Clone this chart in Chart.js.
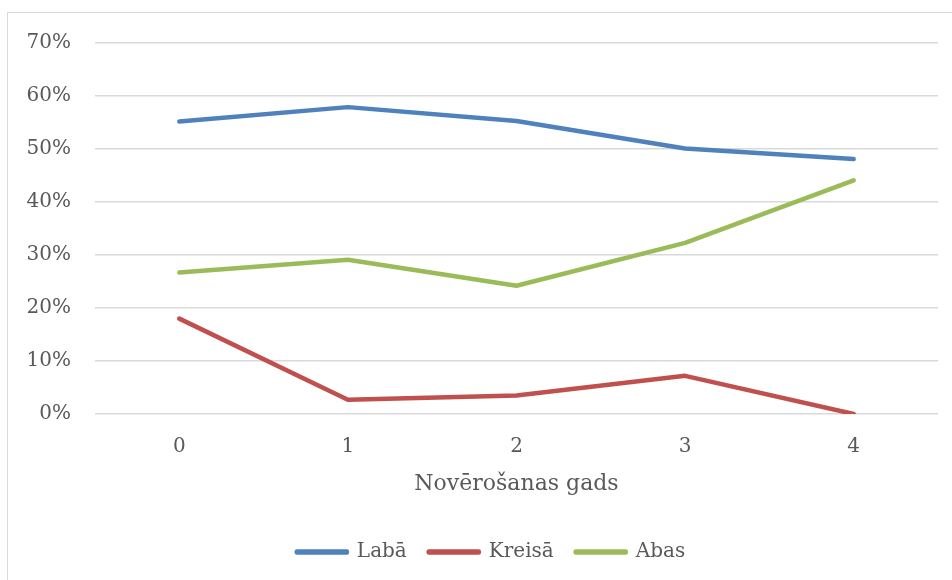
<!DOCTYPE html>
<html>
<head>
<meta charset="utf-8">
<script src="https://cdn.jsdelivr.net/npm/chart.js@4"></script>
<style>
    body { margin: 0; background: #fff; }
    #wrap { position: absolute; left: 0; top: 0; width: 952px; height: 580px; }
    #frame { position: absolute; left: 7px; top: 12px; width: 960px; height: 600px;
        border-left: 1px solid #d9d9d9; border-top: 1px solid #d9d9d9; pointer-events: none; }
</style>
</head>
<body>
<div id="wrap"><canvas id="grafico"></canvas></div>
<div id="frame"></div>
<script>
// dados
const anos = ['0', '1', '2', '3', '4'];
const laba = [55.2, 57.9, 55.3, 50.1, 48.1];
const kreisa = [18.0, 2.7, 3.5, 7.2, 0.0];
const abas = [26.7, 29.1, 24.2, 32.3, 44.1];
const nomes = ['Labā', 'Kreisā', 'Abas'];
const cores = ['#4f81bd', '#c0504d', '#9bbb59'];

const fonte = 'DejaVu Serif';
const cinza = '#595959';

let data = {
    labels: anos,
    datasets: [laba, kreisa, abas].map((valores, i) => ({
        label: nomes[i],
        data: valores,
        borderColor: cores[i],
        backgroundColor: cores[i],
        borderWidth: 4.5,
        borderCapStyle: 'round',
        borderJoinStyle: 'round',
        pointRadius: 0,
        tension: 0
    }))
};

// o quadro do gráfico original é mais largo que a imagem, a legenda fica um pouco à direita
const moveLegenda = {
    id: 'moveLegenda',
    afterLayout(chart) {
        chart.legend.left += 22;
        chart.legend.right += 22;
    }
};

let config = {
    type: 'line',
    data: data,
    plugins: [moveLegenda],
    options: {
        responsive: true,
        maintainAspectRatio: false,
        animation: false,
        layout: {padding: {top: 43, right: 14, bottom: 8, left: 0}},
        plugins: {
            legend: {
                position: 'bottom',
                labels: {
                    color: cinza,
                    font: {family: fonte, size: 20},
                    boxWidth: 50,
                    boxHeight: 1,
                    padding: 22
                }
            },
            tooltip: {enabled: false}
        },
        scales: {
            x: {
                offset: true,
                afterFit: (scale) => { scale.height = 106; },
                grid: {display: false, drawTicks: false},
                border: {display: false},
                ticks: {color: cinza, font: {family: fonte, size: 20}, padding: 21},
                title: {
                    display: true,
                    text: 'Novērošanas gads',
                    color: cinza,
                    font: {family: fonte, size: 22},
                    padding: {top: 0, bottom: 23}
                }
            },
            y: {
                min: 0,
                max: 70,
                afterFit: (scale) => { scale.width = 95; },
                grid: {color: '#d9d9d9', lineWidth: 1.5, drawTicks: false},
                border: {display: false},
                ticks: {
                    stepSize: 10,
                    color: cinza,
                    font: {family: fonte, size: 20},
                    padding: 24,
                    callback: (v) => v + '%'
                }
            }
        }
    }
};

let ctx = new Chart(document.getElementById('grafico'), config);
</script>
</body>
</html>
